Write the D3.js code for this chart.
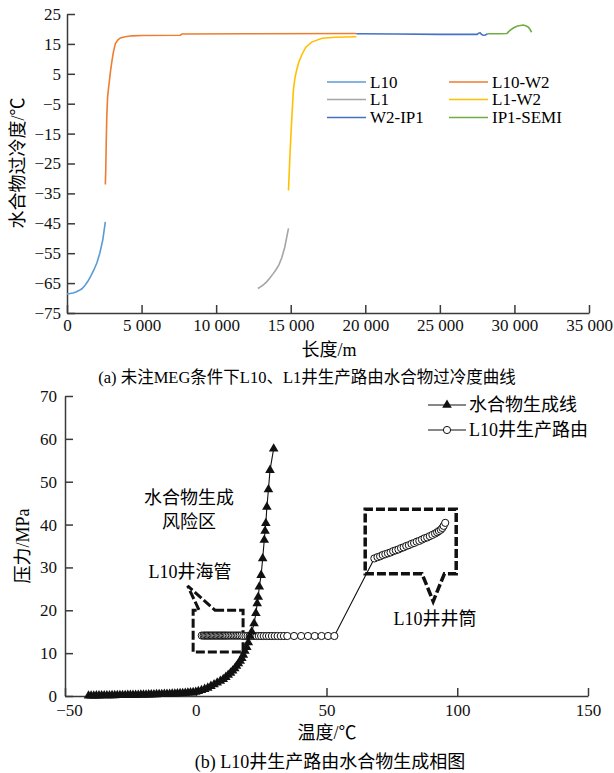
<!DOCTYPE html>
<html>
<head>
<meta charset="utf-8">
<script src="https://cdn.jsdelivr.net/npm/d3@7"></script>
<style>
  body { margin: 0; background: #fff; }
  svg { display: block; font-family: "Liberation Serif", "Noto Sans CJK SC", serif; }
  .axis .domain, .axis .tick line { stroke: #3a3a3a; stroke-width: 1.5; }
  .axis text { font-family: "Liberation Serif", serif; font-size: 17px; fill: #111; }
</style>
</head>
<body>
<div id="chart"></div>
<script>
//////////////////// data (a) ////////////////////
const L10_len = [0, 200, 400, 600, 800, 1000, 1200, 1400, 1600, 1800, 2000, 2200, 2400, 2570];
const L10_val = [-68.6, -68.5, -68.3, -68.0, -67.5, -66.9, -65.8, -64.4, -62.6, -60.6, -58.3, -55.0, -50.5, -44.5];

const L10W2_len = [2570, 2600, 2630, 2670, 2720, 2780, 2840, 2920, 3020, 3120, 3240, 3400, 3580, 3900, 4370, 5000, 7600, 7700, 12000, 19400];
const L10W2_val = [-32, -27, -18, -9, -3, 0, 2.5, 6, 9.5, 12.5, 15, 16.3, 17, 17.4, 17.7, 17.8, 17.9, 18.3, 18.4, 18.5];

const L1_len = [12800, 13000, 13200, 13400, 13600, 13800, 14000, 14200, 14400, 14600, 14850];
const L1_val = [-66.8, -66.2, -65.4, -64.5, -63.3, -62.0, -60.6, -59.0, -56.5, -53.0, -46.7];

const L1W2_len = [14850, 14880, 14950, 15050, 15180, 15280, 15400, 15550, 15740, 16000, 16400, 17100, 18000, 19400];
const L1W2_val = [-34, -30.5, -22, -12, -0.4, 3.5, 6.3, 9, 11.3, 13.8, 15.6, 16.9, 17.2, 17.4];

const W2IP1_len = [19400, 22000, 25000, 27500, 27600, 27700, 27800, 27900, 28050, 28200];
const W2IP1_val = [18.4, 18.3, 18.2, 18.2, 18.6, 18.7, 18.2, 17.9, 18.0, 18.4];

const IP1SEMI_len = [28200, 29000, 29500, 29700, 29950, 30200, 30600, 30800, 30950, 31050, 31150];
const IP1SEMI_val = [18.4, 18.4, 18.5, 19.5, 20.4, 21.0, 21.3, 21.0, 20.5, 19.8, 18.9];

const seriesNames = ["L10", "L10-W2", "L1", "L1-W2", "W2-IP1", "IP1-SEMI"];
const seriesColors = ["#5b9bd5", "#ed7d31", "#a5a5a5", "#ffc000", "#4472c4", "#70ad47"];
const lenTicks = [0, 5000, 10000, 15000, 20000, 25000, 30000, 35000];
const subTicks = [-75, -65, -55, -45, -35, -25, -15, -5, 5, 15, 25];

//////////////////// data (b) ////////////////////
const hydT = [-41, -40, -39, -38, -37, -36, -35, -34, -33, -32, -31, -30, -29, -28, -27, -26, -25, -24, -23, -22, -21, -20,
    -19, -18, -17, -16, -15, -14, -13, -12, -11, -10, -9, -8, -7, -6, -5, -4, -3, -2, -1, 0,
    1, 2.2, 3.4, 4.6, 5.8, 7, 8.2, 9.4, 10.5, 11.5, 12.4, 13.3, 14.1, 14.9, 15.6, 16.3, 17, 17.6, 18.2, 18.8, 19.5, 20.1, 20.7,
    21.4, 22.3, 23.0, 23.5, 23.9, 24.3, 25.0, 25.6, 26.2, 26.5, 26.8, 27.2, 27.8, 28.4, 29.8];
const hydP = [0.05, 0.06, 0.07, 0.08, 0.09, 0.1, 0.11, 0.12, 0.13, 0.14, 0.15, 0.16, 0.17, 0.18, 0.19, 0.2, 0.21, 0.22, 0.24, 0.25, 0.27, 0.28,
    0.3, 0.31, 0.33, 0.35, 0.37, 0.39, 0.41, 0.43, 0.46, 0.48, 0.51, 0.54, 0.57, 0.61, 0.65, 0.69, 0.74, 0.79, 0.85, 0.92,
    1.1, 1.35, 1.6, 1.9, 2.3, 2.7, 3.1, 3.5, 3.9, 4.4, 4.9, 5.4, 5.9, 6.4, 7.0, 7.6, 8.2, 8.8, 9.6, 10.5, 11.4, 12.5, 14.0,
    15.0, 16.9, 19.3, 21.6, 23.1, 25.5, 28.2, 32.1, 36.4, 38.5, 40.3, 44.1, 48.2, 52.7, 57.7];

// seabed pipeline then wellbore
const pipeT = [2.3, 3.0, 3.5, 4.0, 4.5, 5.0, 5.5, 6.0, 6.5, 7.0, 7.5, 8.0, 8.5, 9.0, 9.5, 10.0, 10.5, 11.0, 11.5, 12.0, 12.6, 13.2, 13.8, 14.4, 15.0, 15.6, 16.2, 16.8, 17.5, 18.2, 19.0, 19.8, 20.6, 21.4, 22.3, 23.2, 24.1, 25.0, 26.0, 27.0, 28.0, 29.1, 30.2, 31.3, 32.5, 33.7, 35.0, 37.6, 40.3, 42.9, 45.5, 48.1, 50.6, 53.0];
const pipeP = [14.1, 14.1, 14.1, 14.1, 14.1, 14.1, 14.1, 14.1, 14.1, 14.1, 14.1, 14.1, 14.1, 14.1, 14.1, 14.1, 14.1, 14.1, 14.1, 14.1, 14.1, 14.1, 14.1, 14.1, 14.1, 14.1, 14.1, 14.1, 14.1, 14.0, 14.0, 14.0, 14.0, 14.0, 14.0, 14.0, 14.0, 14.0, 14.0, 14.0, 14.0, 14.0, 14.0, 14.0, 14.0, 14.0, 14.0, 14.0, 14.0, 14.0, 14.0, 14.0, 14.0, 14.0];
const wellT = [68.3, 69.5, 70.5, 71.5, 72.5, 73.5, 74.5, 75.5, 76.5, 77.5, 78.5, 79.5, 80.5, 81.5, 82.5, 83.5, 84.5, 85.5, 86.5, 87.5, 88.5, 89.5, 90.5, 91.5, 92.3, 93.0, 93.7, 94.3, 94.8, 95.4];
const wellP = [32.1, 32.4, 32.6, 32.9, 33.1, 33.3, 33.5, 33.8, 34.0, 34.2, 34.5, 34.7, 35.0, 35.2, 35.5, 35.7, 36.0, 36.2, 36.5, 36.8, 37.0, 37.3, 37.6, 37.9, 38.2, 38.5, 38.8, 39.2, 39.7, 40.4];
const tempTicks = [-50, 0, 50, 100, 150];
const pressTicks = [0, 10, 20, 30, 40, 50, 60, 70];

//////////////////////////////////////////////////////
const svg = d3.select("#chart").append("svg")
    .attr("width", 614)
    .attr("height", 773);

/****** (a) ******/
const xA = d3.scaleLinear().domain([0, 35000]).range([67, 589]);
const yA = d3.scaleLinear().domain([-75, 25]).range([313, 14]);

svg.append("g").attr("class", "axis")
    .attr("transform", "translate(0,313)")
    .call(d3.axisBottom(xA).tickValues(lenTicks).tickSizeInner(-8).tickSizeOuter(0).tickPadding(6)
        .tickFormat(d => d3.format(",")(d).replace(",", " ")));
svg.append("g").attr("class", "axis")
    .attr("transform", "translate(67,0)")
    .call(d3.axisLeft(yA).tickValues(subTicks).tickSizeInner(-8).tickSizeOuter(0).tickPadding(6));

const lensA = [L10_len, L10W2_len, L1_len, L1W2_len, W2IP1_len, IP1SEMI_len];
const valsA = [L10_val, L10W2_val, L1_val, L1W2_val, W2IP1_val, IP1SEMI_val];
const lineA = d3.line().x(d => xA(d[0])).y(d => yA(d[1]));

seriesNames.forEach(function (name, i) {
    const pts = lensA[i].map((l, j) => [l, valsA[i][j]]);
    svg.append("path")
        .datum(pts)
        .attr("fill", "none")
        .attr("stroke", seriesColors[i])
        .attr("stroke-width", 1.6)
        .attr("d", lineA);
});

// legend (a)
const legA = svg.selectAll(".legA")
    .data(seriesNames)
    .enter().append("g")
    .attr("transform", (d, i) => "translate(" + (i % 2 ? 449 : 327) + "," + [82, 99.5, 117.5][Math.floor(i / 2)] + ")");
legA.append("line")
    .attr("x1", 0).attr("x2", 39)
    .attr("stroke", (d, i) => seriesColors[i])
    .attr("stroke-width", 1.6);
legA.append("text")
    .attr("x", 43).attr("dy", "0.35em")
    .style("font-size", "17px")
    .text(d => d);

svg.append("text")
    .attr("transform", "translate(18,163) rotate(-90)")
    .attr("text-anchor", "middle").attr("dy", "0.35em")
    .style("font-size", "18px")
    .text("水合物过冷度/℃");
svg.append("text")
    .attr("x", 329).attr("y", 350).attr("dy", "0.35em")
    .attr("text-anchor", "middle")
    .style("font-size", "18px")
    .text("长度/m");
svg.append("text")
    .attr("x", 307).attr("y", 377).attr("dy", "0.35em")
    .attr("text-anchor", "middle")
    .style("font-size", "16.5px")
    .text("(a) 未注MEG条件下L10、L1井生产路由水合物过冷度曲线");

/****** (b) ******/
const xB = d3.scaleLinear().domain([-50, 150]).range([65, 588]);
const yB = d3.scaleLinear().domain([0, 70]).range([696, 396]);

const xAxisB = svg.append("g").attr("class", "axis")
    .attr("transform", "translate(0,696)")
    .call(d3.axisBottom(xB).tickValues(tempTicks).tickSizeInner(-8).tickSizeOuter(0).tickPadding(8));
// first label sits a little right of its tick, clear of the "0" on the y axis
xAxisB.selectAll(".tick text").filter(d => d === -50).attr("dx", 4);
svg.append("g").attr("class", "axis")
    .attr("transform", "translate(65,0)")
    .call(d3.axisLeft(yB).tickValues(pressTicks).tickSizeInner(-8).tickSizeOuter(0).tickPadding(8));

// callout boxes
const boxes = [
    { l: -1.0, r: 18.1, t: 20.0, b: 10.25, side: "top", p1: 1.3, p2: 7.4, tipT: -3.1, tipP: 25.7, w: 3 },
    { l: 64.8, r: 99.6, t: 43.6, b: 28.55, side: "bottom", p1: 86.5, p2: 95.1, tipT: 90.8, tipP: 22.1, w: 3.5 }
];
boxes.forEach(function (bx) {
    let p = d3.path();
    if (bx.side === "top") {
        p.moveTo(xB(bx.p2), yB(bx.t));
        p.lineTo(xB(bx.r), yB(bx.t));
        p.lineTo(xB(bx.r), yB(bx.b));
        p.lineTo(xB(bx.l), yB(bx.b));
        p.lineTo(xB(bx.l), yB(bx.t));
        p.lineTo(xB(bx.p1), yB(bx.t));
        p.lineTo(xB(bx.tipT), yB(bx.tipP));
        p.closePath();
    } else {
        p.moveTo(xB(bx.p1), yB(bx.b));
        p.lineTo(xB(bx.l), yB(bx.b));
        p.lineTo(xB(bx.l), yB(bx.t));
        p.lineTo(xB(bx.r), yB(bx.t));
        p.lineTo(xB(bx.r), yB(bx.b));
        p.lineTo(xB(bx.p2), yB(bx.b));
        p.lineTo(xB(bx.tipT), yB(bx.tipP));
        p.closePath();
    }
    svg.append("path")
        .attr("d", p.toString())
        .attr("fill", "none")
        .attr("stroke", "#111")
        .attr("stroke-width", bx.w)
        .attr("stroke-dasharray", "9,3")
        .attr("stroke-linejoin", "miter");
});

// L10 route
const route = pipeT.map((t, i) => [t, pipeP[i]])
    .concat(wellT.map((t, i) => [t, wellP[i]]));
const lineB = d3.line().x(d => xB(d[0])).y(d => yB(d[1]));
svg.append("path").datum(route)
    .attr("fill", "none").attr("stroke", "#111").attr("stroke-width", 1.1)
    .attr("d", lineB);
svg.selectAll(".routePt")
    .data(route)
    .enter().append("circle")
    .attr("class", "routePt")
    .attr("cx", d => xB(d[0])).attr("cy", d => yB(d[1]))
    .attr("r", 3.6)
    .attr("fill", "#fff").attr("stroke", "#111").attr("stroke-width", 1);

// hydrate formation line
const hyd = hydT.map((t, i) => [t, hydP[i]]);
svg.append("path").datum(hyd)
    .attr("fill", "none").attr("stroke", "#111").attr("stroke-width", 1.1)
    .attr("d", lineB);
const tri = d3.symbol(d3.symbolTriangle, 40);
svg.selectAll(".hydPt")
    .data(hyd)
    .enter().append("path")
    .attr("class", "hydPt")
    .attr("d", tri)
    .attr("transform", d => "translate(" + xB(d[0]) + "," + yB(d[1]) + ")")
    .attr("fill", "#111");

// legend (b)
const legB = svg.append("g").attr("transform", "translate(428,405)");
legB.append("line").attr("x1", 0).attr("x2", 38).attr("stroke", "#111").attr("stroke-width", 1.1);
legB.append("path").attr("d", tri).attr("transform", "translate(19,0)").attr("fill", "#111");
legB.append("text").attr("x", 41).attr("dy", "0.35em").style("font-size", "18px").text("水合物生成线");
legB.append("line").attr("x1", 0).attr("x2", 38).attr("y1", 25).attr("y2", 25).attr("stroke", "#111").attr("stroke-width", 1.1);
legB.append("circle").attr("cx", 19).attr("cy", 25).attr("r", 3.6).attr("fill", "#fff").attr("stroke", "#111");
legB.append("text").attr("x", 41).attr("y", 25).attr("dy", "0.35em").style("font-size", "18px").text("L10井生产路由");

// annotations
[["水合物生成", 189, 498], ["风险区", 189, 522], ["L10井海管", 190, 572], ["L10井井筒", 435, 619]]
    .forEach(function (a) {
        svg.append("text")
            .attr("x", a[1]).attr("y", a[2]).attr("dy", "0.35em")
            .attr("text-anchor", "middle")
            .style("font-size", "18px")
            .text(a[0]);
    });

svg.append("text")
    .attr("transform", "translate(23,546) rotate(-90)")
    .attr("text-anchor", "middle").attr("dy", "0.35em")
    .style("font-size", "18px")
    .text("压力/MPa");
svg.append("text")
    .attr("x", 327).attr("y", 733).attr("dy", "0.35em")
    .attr("text-anchor", "middle")
    .style("font-size", "18px")
    .text("温度/℃");
svg.append("text")
    .attr("x", 330).attr("y", 762).attr("dy", "0.35em")
    .attr("text-anchor", "middle")
    .style("font-size", "18px")
    .text("(b) L10井生产路由水合物生成相图");
</script>
</body>
</html>
